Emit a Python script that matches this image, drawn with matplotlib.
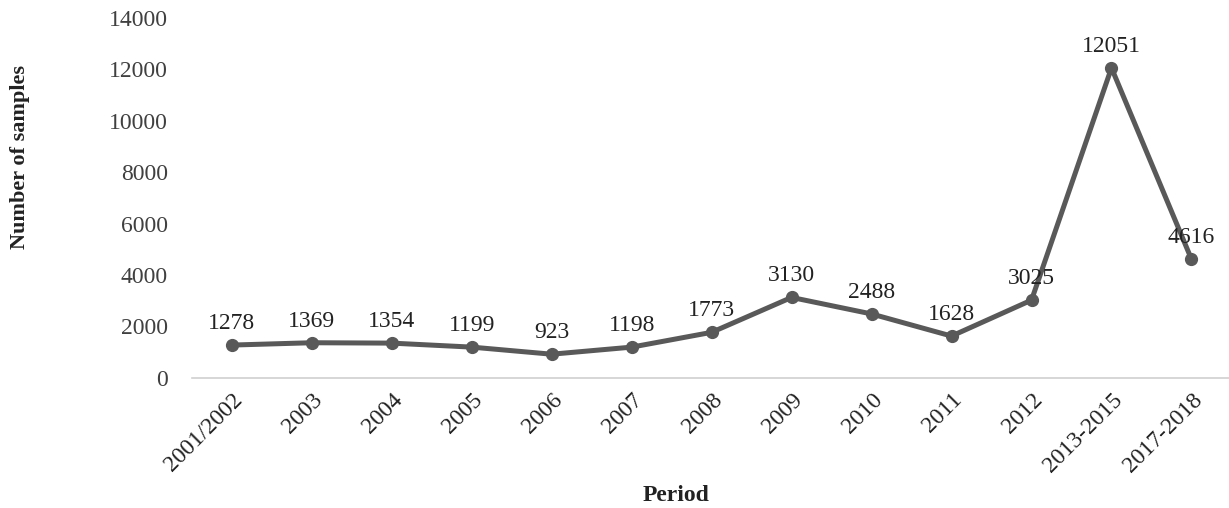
import matplotlib
matplotlib.use("Agg")
import matplotlib.pyplot as plt

periods = ["2001/2002", "2003", "2004", "2005", "2006", "2007", "2008",
           "2009", "2010", "2011", "2012", "2013-2015", "2017-2018"]
samples = [1278, 1369, 1354, 1199, 923, 1198, 1773, 3130, 2488, 1628, 3025, 12051, 4616]
y_ticks = [0, 2000, 4000, 6000, 8000, 10000, 12000, 14000]

plt.rcParams['font.family'] = ['Liberation Serif', 'DejaVu Serif']

line_color = '#595959'
text_color = '#404040'

fig = plt.figure(figsize=(12.29, 5.08), dpi=100)
ax = fig.add_axes([0.156, 0.256, 0.846, 0.709])

x = list(range(len(periods)))
ax.plot(x, samples, color=line_color, linewidth=3.6, marker='o', markersize=8.5,
        solid_joinstyle='round', zorder=3)

for xi, v in zip(x, samples):
    ax.annotate(str(v), (xi, v), xytext=(0, 8), textcoords='offset points',
                ha='center', va='bottom', fontsize=17, color='#222222')

ax.set_xlim(-0.5, len(periods) - 0.5)
ax.set_ylim(0, 14000)
ax.set_yticks(y_ticks)
ax.set_yticklabels([str(t) for t in y_ticks], fontsize=17, color=text_color)
ax.set_xticks(x)
ax.set_xticklabels(periods, rotation=45, ha='right', rotation_mode='anchor',
                   fontsize=17, color='#222222')
ax.tick_params(axis='both', length=0)
ax.tick_params(axis='y', pad=17)
ax.tick_params(axis='x', pad=8)

for side in ['top', 'right', 'left']:
    ax.spines[side].set_visible(False)
ax.spines['bottom'].set_color('#d0d0d0')
ax.spines['bottom'].set_linewidth(1.2)

fig.text(0.016, 0.69, 'Number of samples', rotation=90, ha='center', va='center',
         fontsize=16, fontweight='bold', color='#222222')
fig.text(0.55, 0.025, 'Period', ha='center', va='center',
         fontsize=17, fontweight='bold', color='#222222')

fig.savefig('out.png', dpi=100, facecolor='white')
